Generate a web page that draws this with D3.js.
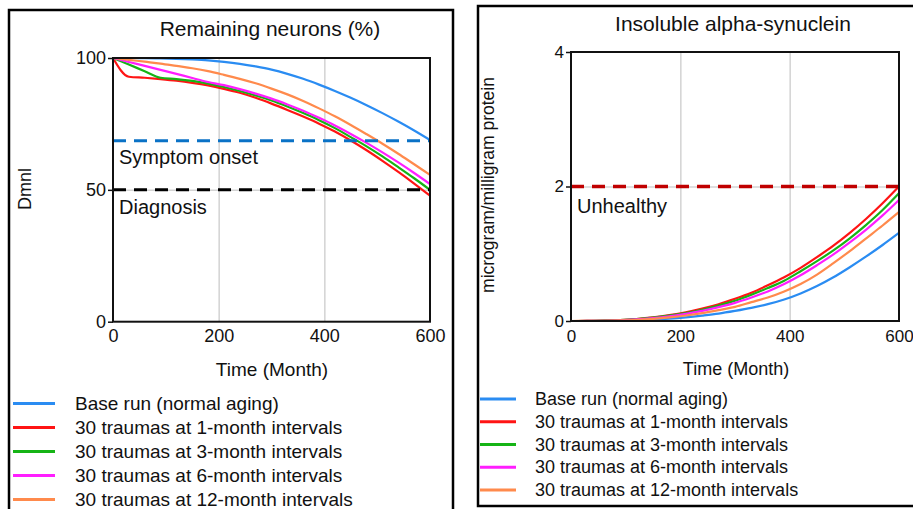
<!DOCTYPE html>
<html>
<head>
<meta charset="utf-8">
<script src="https://cdn.jsdelivr.net/npm/d3@7"></script>
<style>
  html, body { margin: 0; padding: 0; background: #fff; }
  svg { display: block; font-family: "Liberation Sans", Arial, sans-serif; }
</style>
</head>
<body>
<svg id="chart" width="913" height="509"></svg>
<script>
// Simulation time axis (months)
const months = [0, 30, 60, 90, 120, 150, 180, 210, 240, 270, 300, 330, 360, 390, 420, 450, 480, 510, 540, 570, 600];
const xTicks = [0, 200, 400, 600];

const seriesLabels = [
  "Base run (normal aging)",
  "30 traumas at 1-month intervals",
  "30 traumas at 3-month intervals",
  "30 traumas at 6-month intervals",
  "30 traumas at 12-month intervals"
];

// Remaining neurons (%)
const neuronsBase = [100, 100, 99.95, 99.85, 99.7, 99.45, 99.1, 98.55, 97.8, 96.8, 95.6, 94.0, 92.1, 89.9, 87.5, 84.9, 82.1, 79.1, 75.9, 72.5, 68.9];
const neurons1m   = [100, 92.9, 92.5, 92.0, 91.4, 90.6, 89.6, 88.3, 86.8, 84.9, 82.7, 80.3, 77.8, 75.1, 72.1, 68.7, 65.0, 61.0, 56.8, 52.4, 47.8];
const neurons3m   = [100, 97.5, 95.0, 92.5, 92.0, 91.3, 90.3, 89.0, 87.5, 85.8, 83.9, 81.6, 79.1, 76.4, 73.4, 70.0, 66.5, 62.7, 58.6, 54.4, 50.0];
const neurons6m   = [100, 98.5, 97.0, 95.5, 94.0, 92.4, 90.9, 89.7, 88.2, 86.5, 84.6, 82.4, 80.0, 77.3, 74.4, 71.2, 67.8, 64.2, 60.4, 56.4, 52.2];
const neurons12m  = [100, 99.3, 98.6, 97.9, 97.0, 96.1, 95.0, 93.6, 92.1, 90.4, 88.4, 86.2, 83.7, 80.9, 77.9, 74.6, 71.1, 67.5, 63.7, 59.7, 55.7];
const neuronTicks = [0, 50, 100];
const symptomOnset = 68.6;
const diagnosis = 50;

// Insoluble alpha-synuclein (microgram/milligram protein)
const synBase = [0, 0, 0.002, 0.005, 0.011, 0.02, 0.034, 0.054, 0.08, 0.11, 0.15, 0.195, 0.25, 0.32, 0.41, 0.52, 0.65, 0.80, 0.96, 1.13, 1.31];
const syn1m   = [0, 0.001, 0.005, 0.014, 0.030, 0.054, 0.087, 0.13, 0.185, 0.25, 0.33, 0.42, 0.53, 0.65, 0.79, 0.95, 1.12, 1.31, 1.52, 1.75, 2.00];
const syn3m   = [0, 0.001, 0.005, 0.013, 0.027, 0.049, 0.079, 0.118, 0.168, 0.229, 0.30, 0.39, 0.49, 0.60, 0.74, 0.89, 1.05, 1.23, 1.43, 1.65, 1.90];
const syn6m   = [0, 0.001, 0.004, 0.011, 0.024, 0.044, 0.071, 0.106, 0.151, 0.206, 0.27, 0.35, 0.44, 0.55, 0.68, 0.83, 0.99, 1.17, 1.36, 1.57, 1.80];
const syn12m  = [0, 0.001, 0.003, 0.008, 0.018, 0.033, 0.054, 0.082, 0.118, 0.162, 0.21, 0.28, 0.35, 0.44, 0.55, 0.69, 0.86, 1.04, 1.23, 1.42, 1.62];
const synTicks = [0, 2, 4];
const unhealthy = 2;

// Styles
const seriesColors = ["#2a8cf2", "#ff1414", "#16b416", "#ff1eff", "#ff8a4c"];

const svg = d3.select("#chart");
svg.append("rect").attr("width", 913).attr("height", 509).attr("fill", "#fff");

function drawPanel(cfg) {
  const g = svg.append("g");

  // panel border
  g.append("rect")
    .attr("x", cfg.box[0]).attr("y", cfg.box[1])
    .attr("width", cfg.box[2] - cfg.box[0]).attr("height", cfg.box[3] - cfg.box[1])
    .attr("fill", "none").attr("stroke", "#000").attr("stroke-width", 2.5);

  const x = d3.scaleLinear().domain([0, 600]).range([cfg.left, cfg.right]);
  const y = d3.scaleLinear().domain([0, cfg.yTicks[cfg.yTicks.length - 1]]).range([cfg.bottom, cfg.top]);
  const w = cfg.right - cfg.left, h = cfg.bottom - cfg.top;

  // grid
  g.append("g").attr("transform", `translate(0,${cfg.bottom})`)
    .call(d3.axisBottom(x).tickValues(xTicks.slice(1, -1)).tickSize(-h).tickFormat(""))
    .call(s => s.select(".domain").remove())
    .selectAll("line").attr("stroke", "#d3d3d3").attr("stroke-width", 1.5);
  g.append("g").attr("transform", `translate(${cfg.left},0)`)
    .call(d3.axisLeft(y).tickValues(cfg.yTicks.slice(1, -1)).tickSize(-w).tickFormat(""))
    .call(s => s.select(".domain").remove())
    .selectAll("line").attr("stroke", "#d3d3d3").attr("stroke-width", 1.5);

  // series
  const line = d3.line()
    .x((d, i) => x(months[i]))
    .y(d => y(d))
    .curve(d3.curveMonotoneX);
  cfg.series.forEach((vals, i) => {
    g.append("path").datum(vals)
      .attr("d", line)
      .attr("fill", "none")
      .attr("stroke", seriesColors[i])
      .attr("stroke-width", 2.2);
  });

  // threshold lines
  cfg.thresholds.forEach(t => {
    g.append("line")
      .attr("x1", x(0)).attr("x2", x(600))
      .attr("y1", y(t.value)).attr("y2", y(t.value))
      .attr("stroke", t.color).attr("stroke-width", t.width)
      .attr("stroke-dasharray", "13,8");
    g.append("text")
      .attr("x", cfg.left + 6).attr("y", y(t.value) + t.dy)
      .attr("font-size", 20).attr("fill", "#111")
      .text(t.label);
  });

  // frame
  g.append("rect")
    .attr("x", cfg.left).attr("y", cfg.top).attr("width", w).attr("height", h)
    .attr("fill", "none").attr("stroke", "#111").attr("stroke-width", 2);

  // axes
  const ya = g.append("g").attr("transform", `translate(${cfg.left},0)`)
    .call(d3.axisLeft(y).tickValues(cfg.yTicks).tickFormat(d3.format("d")).tickSize(5).tickPadding(2));
  ya.select(".domain").remove();
  ya.selectAll("line").attr("stroke", "#111").attr("stroke-width", 1.5);
  ya.selectAll("text").attr("font-size", cfg.tickFont).attr("font-family", "Liberation Sans, Arial, sans-serif").attr("fill", "#111");

  const xa = g.append("g").attr("transform", `translate(0,${cfg.bottom})`)
    .call(d3.axisBottom(x).tickValues(xTicks).tickFormat(d3.format("d")).tickSize(0).tickPadding(cfg.xPad));
  xa.select(".domain").remove();
  xa.selectAll("text").attr("font-size", cfg.tickFont).attr("font-family", "Liberation Sans, Arial, sans-serif").attr("fill", "#111");

  // titles
  g.append("text").attr("x", cfg.titleX).attr("y", cfg.titleY)
    .attr("text-anchor", "middle").attr("font-size", 21).attr("fill", "#111").text(cfg.title);
  g.append("text").attr("x", cfg.xLabelX).attr("y", cfg.xLabelY)
    .attr("text-anchor", "middle").attr("font-size", cfg.labelFont).attr("fill", "#111").text("Time (Month)");
  g.append("text")
    .attr("transform", `translate(${cfg.yLabelX},${cfg.yLabelY}) rotate(-90)`)
    .attr("text-anchor", "middle").attr("dominant-baseline", "central")
    .attr("font-size", cfg.yLabelFont).attr("fill", "#111").text(cfg.yLabel);

  // legend
  const lg = g.append("g");
  seriesLabels.forEach((lab, i) => {
    const ly = cfg.legendY + i * cfg.legendStep;
    lg.append("line").attr("x1", cfg.legendX[0]).attr("x2", cfg.legendX[1])
      .attr("y1", ly).attr("y2", ly)
      .attr("stroke", seriesColors[i]).attr("stroke-width", 3);
    lg.append("text").attr("x", cfg.legendX[2]).attr("y", ly + cfg.legendDy)
      .attr("font-size", cfg.labelFont).attr("fill", "#111").text(lab);
  });
}

drawPanel({
  box: [9, 10, 453, 515],
  left: 113, right: 430, top: 58, bottom: 321.7,
  yTicks: neuronTicks,
  series: [neuronsBase, neurons1m, neurons3m, neurons6m, neurons12m],
  thresholds: [
    { value: symptomOnset, color: "#0a72c6", width: 3, label: "Symptom onset", dy: 23 },
    { value: diagnosis, color: "#000", width: 3, label: "Diagnosis", dy: 24 }
  ],
  tickFont: 18, xPad: 7.5, labelFont: 19,
  title: "Remaining neurons (%)", titleX: 270, titleY: 36,
  xLabelX: 272, xLabelY: 376,
  yLabel: "Dmnl", yLabelX: 25, yLabelY: 189, yLabelFont: 18,
  legendX: [13, 55, 75], legendY: 403.5, legendStep: 24, legendDy: 6.5
});

drawPanel({
  box: [478, 6, 920, 506],
  left: 571, right: 899, top: 52, bottom: 321,
  yTicks: synTicks,
  series: [synBase, syn1m, syn3m, syn6m, syn12m],
  thresholds: [
    { value: unhealthy, color: "#c00000", width: 3.5, label: "Unhealthy", dy: 26 }
  ],
  tickFont: 17, xPad: 8.6, labelFont: 18,
  title: "Insoluble alpha-synuclein", titleX: 733, titleY: 31,
  xLabelX: 736, xLabelY: 375,
  yLabel: "microgram/milligram protein", yLabelX: 488, yLabelY: 185, yLabelFont: 17.5,
  legendX: [480, 516, 535], legendY: 399, legendStep: 22.75, legendDy: 6
});
</script>
</body>
</html>
